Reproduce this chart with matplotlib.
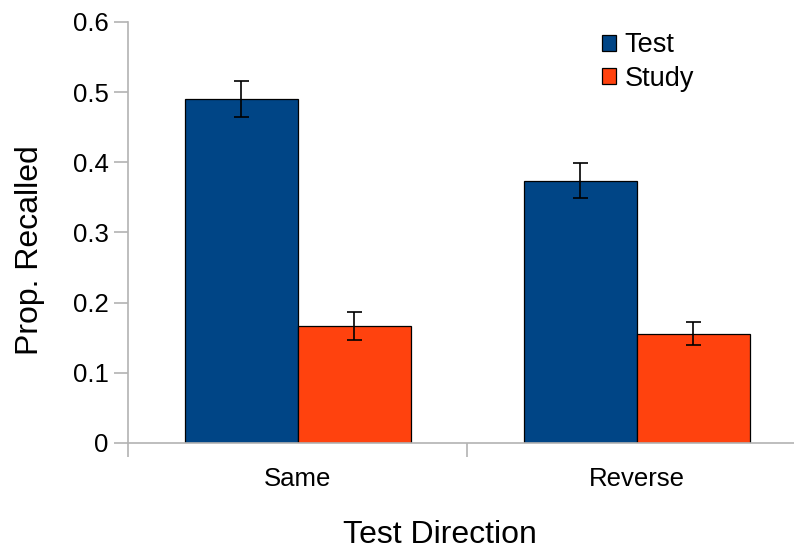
import matplotlib
matplotlib.use("Agg")
import matplotlib.pyplot as plt
import numpy as np

plt.rcParams['font.family'] = ['Liberation Sans', 'DejaVu Sans']

# Data
categories = ["Same", "Reverse"]
series_names = ["Test", "Study"]
test_vals = [0.490, 0.374]
test_err = [0.026, 0.025]
study_vals = [0.167, 0.156]
study_err = [0.020, 0.016]
y_ticks = [0, 0.1, 0.2, 0.3, 0.4, 0.5, 0.6]
y_tick_labels = ["0", "0.1", "0.2", "0.3", "0.4", "0.5", "0.6"]

colors = ["#004586", "#ff420e"]
grey = "#b3b3b3"

W, H = 794, 550
fig = plt.figure(figsize=(W / 100, H / 100), dpi=100)
ax = fig.add_axes([128 / W, 1 - 443 / H, (W - 128) / W, (443 - 22) / H])

x = np.arange(len(categories))
bw = 1 / 3
err_kw = dict(ecolor="black", elinewidth=1.2, capsize=5.4, capthick=1.2)
ax.bar(x - bw / 2, test_vals, bw, yerr=test_err, color=colors[0],
       edgecolor="black", linewidth=0.9, label=series_names[0],
       error_kw=err_kw, zorder=2)
ax.bar(x + bw / 2, study_vals, bw, yerr=study_err, color=colors[1],
       edgecolor="black", linewidth=0.9, label=series_names[1],
       error_kw=err_kw, zorder=2)

ax.set_xlim(-0.5, (W - 297.5) / 339)
ax.set_ylim(0, 0.6)

for s in ["top", "right"]:
    ax.spines[s].set_visible(False)
for s in ["left", "bottom"]:
    ax.spines[s].set_color(grey)
    ax.spines[s].set_linewidth(1.2)

ax.set_yticks(y_ticks)
ax.set_yticklabels(y_tick_labels, fontsize=18.5)
ax.tick_params(axis="y", length=10, width=1.2, color=grey, pad=4)

# category labels at centers, divider ticks between categories
ax.set_xticks(x)
ax.set_xticklabels(categories, fontsize=18.5)
ax.tick_params(axis="x", which="major", length=0, pad=17)
ax.set_xticks([-0.5, 0.5], minor=True)
ax.tick_params(axis="x", which="minor", length=10, width=1.2, color=grey)
ax.spines["left"].set_bounds(0, 0.6)

fig.text(440 / W, 1 - 535 / H, "Test Direction", fontsize=23,
         ha="center", va="center")
fig.text(30 / W, 1 - 250 / H, "Prop. Recalled", fontsize=23,
         ha="center", va="center", rotation=90)

leg = ax.legend(loc="upper left",
                bbox_to_anchor=((586 - 128) / (W - 128), 1.0 + 6 / 421),
                frameon=False, fontsize=19.5, handlelength=0.52,
                handleheight=0.52, handletextpad=0.3, labelspacing=0.28,
                borderaxespad=0.2)
for p in leg.get_patches():
    p.set_linewidth(0.9)

fig.savefig("out.png", dpi=100)
